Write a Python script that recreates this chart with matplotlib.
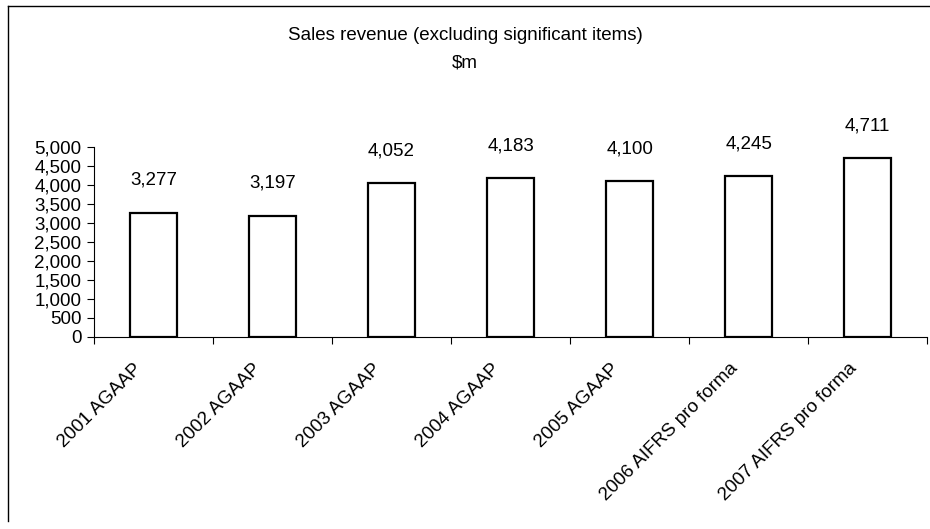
import numpy as np
import matplotlib.pyplot as plt
from matplotlib.lines import Line2D
import matplotlib.transforms as mtransforms

plt.rcParams['font.family'] = ['Liberation Sans', 'DejaVu Sans']

years = ['2001 AGAAP', '2002 AGAAP', '2003 AGAAP', '2004 AGAAP', '2005 AGAAP',
         '2006 AIFRS pro forma', '2007 AIFRS pro forma']
revenue = [3277, 3197, 4052, 4183, 4100, 4245, 4711]

fs = 13.5

fig = plt.figure(figsize=(9.3, 5.29), dpi=100)
ax = fig.add_axes([0.101, 0.363, 0.896, 0.359])

x = np.arange(len(years))
ax.bar(x, revenue, width=0.4, color='white', edgecolor='black', linewidth=1.6)

for xi, v in zip(x, revenue):
    ax.annotate(f'{v:,}', (xi, v), xytext=(0, 17), textcoords='offset points',
                ha='center', va='bottom', fontsize=fs)

ax.set_xlim(-0.5, len(years) - 0.5)
ax.set_ylim(0, 5000)
ax.set_yticks(np.arange(0, 5001, 500))
ax.set_yticklabels([f'{t:,}' for t in range(0, 5001, 500)], fontsize=fs)

# category labels at bar centres, tick marks between categories
ax.set_xticks(x)
ax.set_xticklabels(years, fontsize=fs, rotation=45,
                   ha='right', va='center', rotation_mode='anchor')
ax.tick_params(axis='x', which='major', length=0, pad=21)
ax.set_xticks(np.arange(-0.5, len(years)), minor=True)
ax.tick_params(axis='x', which='minor', length=5, width=0.8)
ax.tick_params(axis='y', length=5, width=0.8, pad=4)
shift = mtransforms.ScaledTranslation(-10 / 72, 0, fig.dpi_scale_trans)
for lbl in ax.get_xticklabels():
    lbl.set_transform(lbl.get_transform() + shift)

for side in ['top', 'right']:
    ax.spines[side].set_visible(False)
ax.spines['left'].set_linewidth(0.8)
ax.spines['bottom'].set_linewidth(0.8)

fig.text(0.5, 0.932, 'Sales revenue (excluding significant items)',
         ha='center', va='center', fontsize=fs)
fig.text(0.5, 0.881, r'\$m', ha='center', va='center', fontsize=fs)

# chart frame
fig.add_artist(Line2D([0.009, 0.009], [0.015, 0.988], color='black', lw=1,
                      transform=fig.transFigure))
fig.add_artist(Line2D([0.009, 0.999], [0.988, 0.988], color='black', lw=1,
                      transform=fig.transFigure))

fig.savefig('out.png', dpi=100)
